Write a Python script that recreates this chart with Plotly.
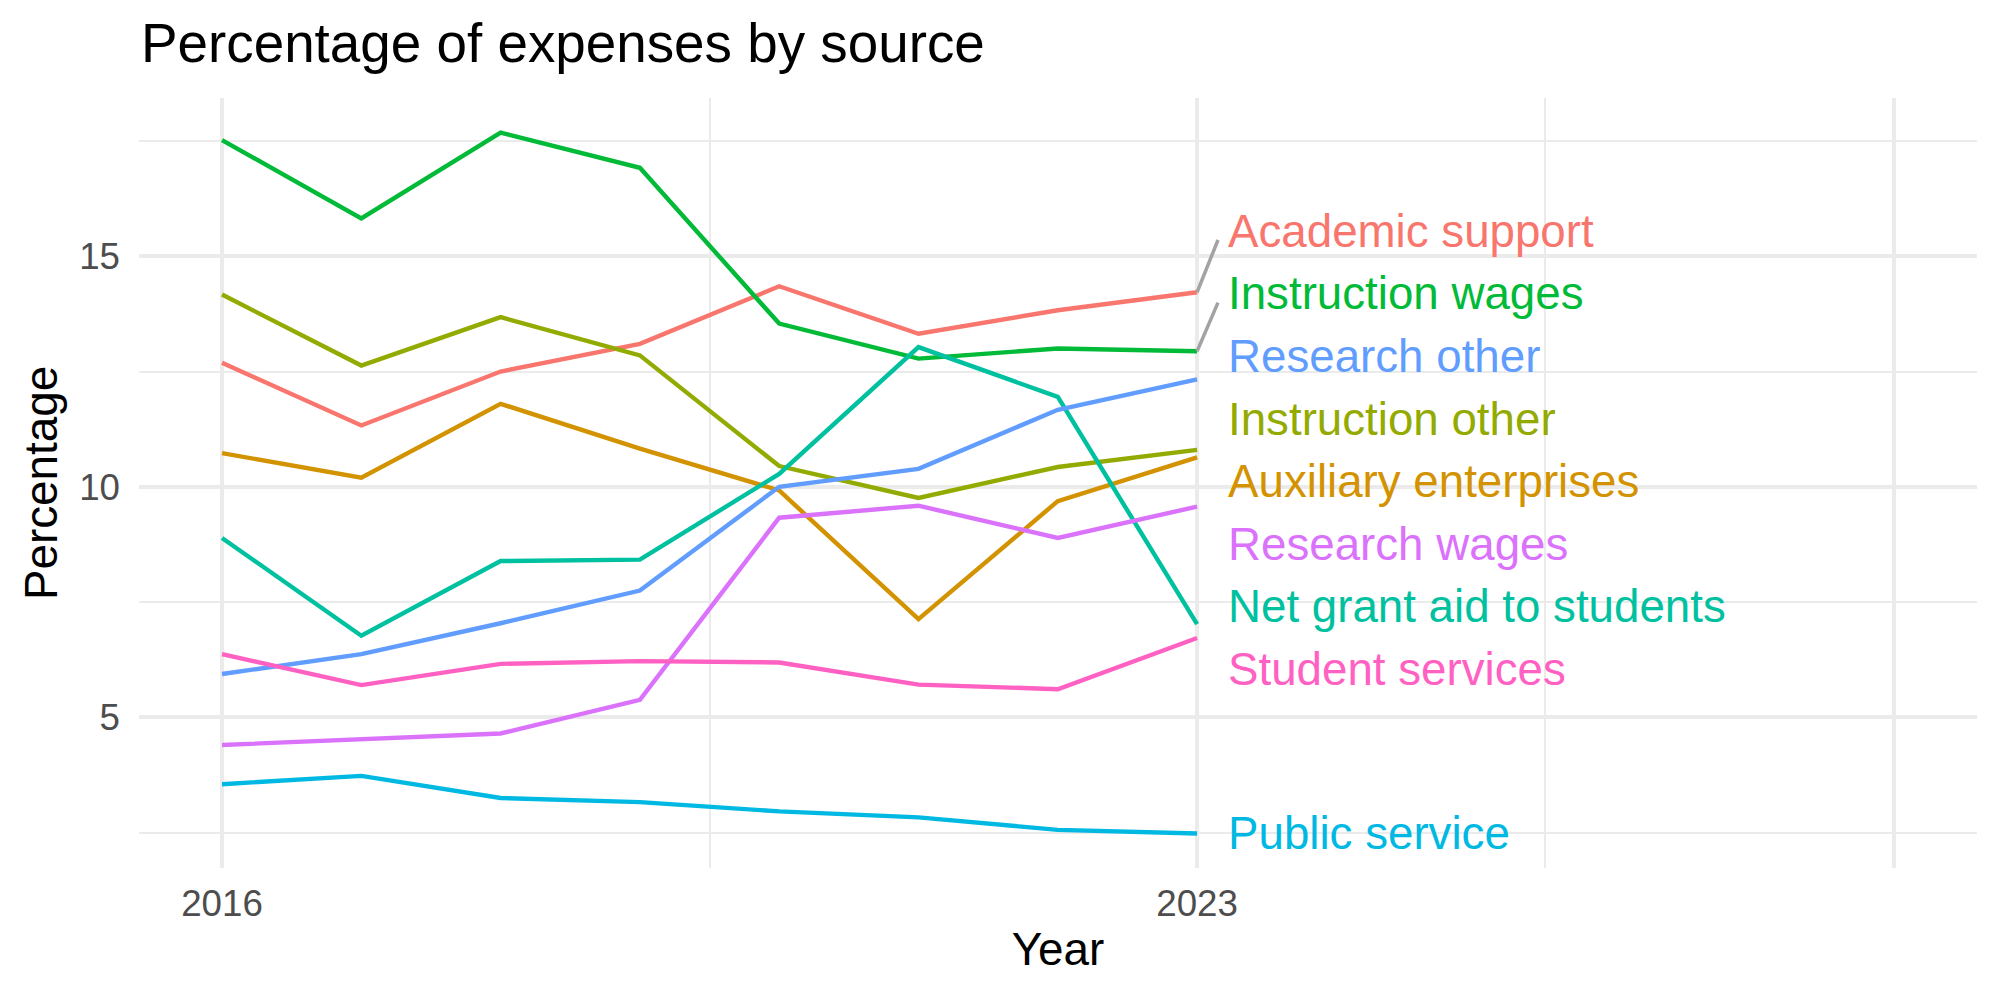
import plotly.graph_objects as go

years = [2016, 2017, 2018, 2019, 2020, 2021, 2022, 2023]

academic_support = [12.69, 11.33, 12.50, 13.10, 14.35, 13.32, 13.83, 14.22]
auxiliary_enterprises = [10.73, 10.20, 11.80, 10.83, 9.92, 7.13, 9.69, 10.64]
instruction_other = [14.17, 12.63, 13.68, 12.85, 10.45, 9.76, 10.43, 10.80]
instruction_wages = [17.52, 15.82, 17.68, 16.92, 13.54, 12.78, 13.00, 12.94]
net_grant_aid = [8.89, 6.77, 8.39, 8.42, 10.28, 13.03, 11.95, 7.02]
public_service = [3.55, 3.73, 3.25, 3.16, 2.96, 2.83, 2.56, 2.48]
research_other = [5.94, 6.37, 7.04, 7.75, 10.00, 10.39, 11.67, 12.33]
research_wages = [4.40, 4.52, 4.65, 5.38, 9.33, 9.59, 8.89, 9.57]
student_services = [6.37, 5.70, 6.16, 6.22, 6.19, 5.71, 5.61, 6.72]

series_names = ["Academic support", "Auxiliary enterprises", "Instruction other",
                "Instruction wages", "Net grant aid to students", "Public service",
                "Research other", "Research wages", "Student services"]
series_values = [academic_support, auxiliary_enterprises, instruction_other,
                 instruction_wages, net_grant_aid, public_service,
                 research_other, research_wages, student_services]
colors = ["#F8766D", "#D39200", "#93AA00", "#00BA38", "#00C19F",
          "#00B9E3", "#619CFF", "#DB72FB", "#FF61C3"]

x_tick_vals = [2016, 2023, 2028]
x_tick_text = ["2016", "2023", ""]
y_tick_vals = [5, 10, 15]
y_tick_text = ["5", "10", "15"]

FONT = "Liberation Sans, Arial, Helvetica, sans-serif"
GRID = "#EBEBEB"


def repel(targets, gap, shift):
    """Simple 1-D label de-overlap: clusters of labels centred on their targets."""
    order = sorted(range(len(targets)), key=lambda i: -targets[i])
    clusters = [[i] for i in order]

    def pos(cl):
        c = sum(targets[i] for i in cl) / len(cl)
        top = c + gap * (len(cl) - 1) / 2
        return [top - k * gap for k in range(len(cl))]

    merged = True
    while merged:
        merged = False
        for k in range(len(clusters) - 1):
            a, b = clusters[k], clusters[k + 1]
            if pos(a)[-1] - pos(b)[0] < gap:
                clusters[k] = a + b
                del clusters[k + 1]
                merged = True
                break
    out = [0.0] * len(targets)
    for cl in clusters:
        ps = pos(cl)
        moved = len(cl) > 1
        for i, p in zip(cl, ps):
            out[i] = p + (shift if moved else 0.0)
    return out


fig = go.Figure()

for name, vals, col in zip(series_names, series_values, colors):
    fig.add_trace(go.Scatter(x=years, y=vals, mode="lines", name=name,
                             line=dict(color=col, width=4.4), showlegend=False,
                             hoverinfo="x+y+name"))

ends = [v[-1] for v in series_values]
label_y = repel(ends, gap=1.358, shift=0.26)
label_x = years[-1] + 0.21
seg_x = years[-1] + 0.15

for name, end, ly, col in zip(series_names, ends, label_y, colors):
    if abs(ly - end) > 1.0:
        fig.add_trace(go.Scatter(x=[years[-1], seg_x], y=[end, ly - 0.19], mode="lines",
                                 line=dict(color="#A3A3A3", width=3.5),
                                 showlegend=False, hoverinfo="skip"))
    fig.add_annotation(x=label_x, y=ly, xref="x", yref="y", text=name,
                       showarrow=False, xanchor="left", yanchor="middle",
                       font=dict(family=FONT, size=45.7, color=col))

fig.add_annotation(text="Percentage of expenses by source", xref="paper", yref="paper",
                   x=0, y=1, xanchor="left", yanchor="bottom", yshift=22,
                   showarrow=False, font=dict(family=FONT, size=54.8, color="black"))

fig.update_layout(
    width=2000, height=1000,
    margin=dict(l=139, r=23, t=98, b=132),
    paper_bgcolor="white", plot_bgcolor="white",
    font=dict(family=FONT),
    xaxis=dict(range=[2015.404, 2028.599], tickmode="array", tickvals=x_tick_vals,
               ticktext=x_tick_text, showgrid=True, gridcolor=GRID, gridwidth=4.4,
               zeroline=False, showline=False, ticks="", ticklabelstandoff=10,
               tickfont=dict(family=FONT, size=36.7, color="#4D4D4D"),
               minor=dict(tickvals=[2019.5, 2025.5], showgrid=True, gridcolor=GRID, gridwidth=2.2),
               title=dict(text="Year", font=dict(family=FONT, size=45.8, color="black"), standoff=10)),
    yaxis=dict(range=[1.732, 18.433], tickmode="array", tickvals=y_tick_vals,
               ticktext=y_tick_text, showgrid=True, gridcolor=GRID, gridwidth=4.4,
               zeroline=False, showline=False, ticks="", ticklabelstandoff=18,
               tickfont=dict(family=FONT, size=36.7, color="#4D4D4D"),
               minor=dict(tickvals=[2.5, 7.5, 12.5, 17.5], showgrid=True, gridcolor=GRID, gridwidth=2.2),
               title=dict(text="Percentage", font=dict(family=FONT, size=45.8, color="black"), standoff=7)),
)

fig.write_html("out.html")
